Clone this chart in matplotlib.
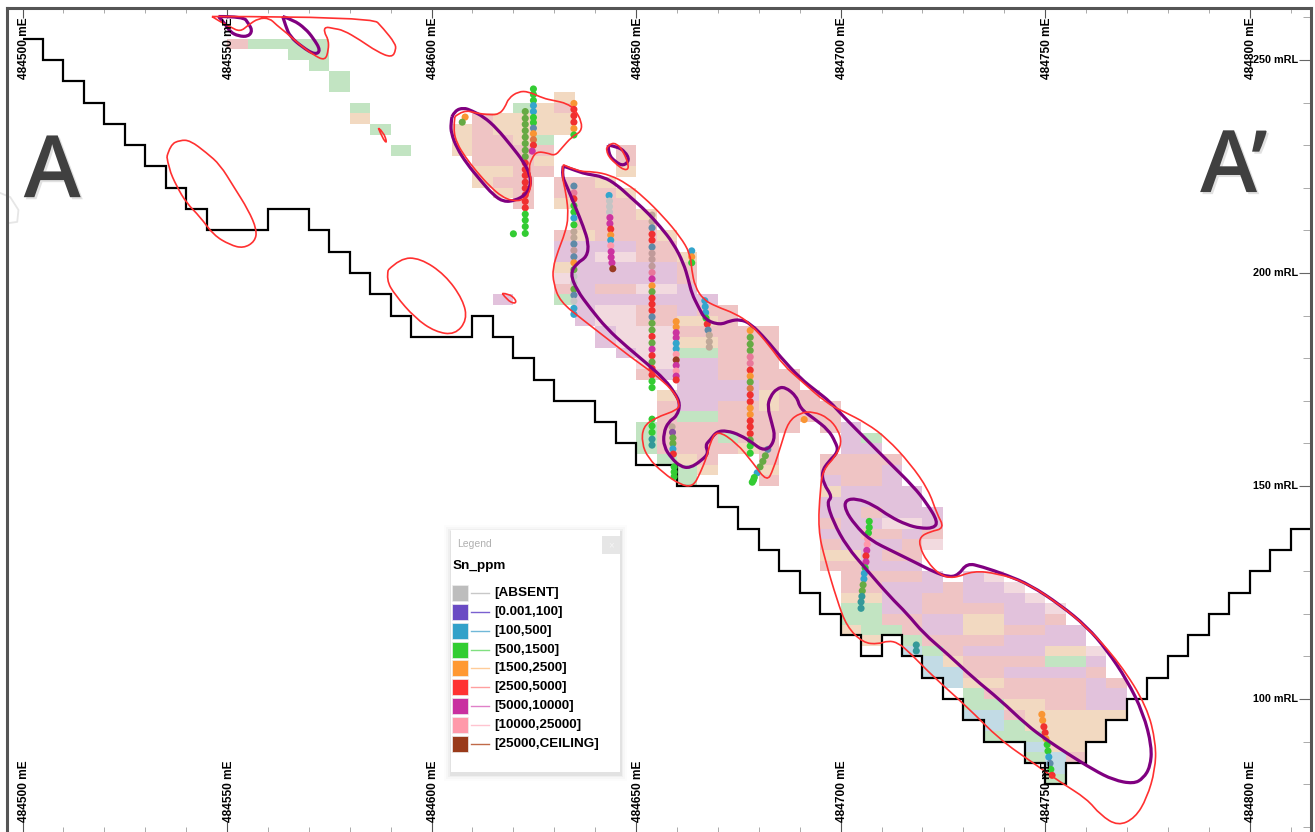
import numpy as np
import matplotlib
matplotlib.use('Agg')
import matplotlib.pyplot as plt
import matplotlib.patheffects as pe
from matplotlib.patches import Rectangle, PathPatch
from matplotlib.path import Path

plt.rcParams['font.family'] = ['Liberation Sans', 'DejaVu Sans']

# all eastings are metres east of 484500 mE
origin_e = 484500
major_e = [0, 50, 100, 150, 200, 250, 300]
minor_e = list(range(0, 320, 10))
major_rl = [100, 150, 200, 250]
minor_rl = list(range(70, 270, 10))

# topography, one level per step
topo_e = [0, 5, 10, 15, 20, 25, 30, 35, 40, 45, 60, 70, 75, 80, 85, 90, 95, 110, 115, 120, 125, 130, 140, 145,
          150, 160, 170, 175, 180, 185, 190, 195, 200, 205, 210, 215, 220, 225, 230, 235, 245, 250, 255, 260,
          265, 270, 275, 280, 285, 290, 295, 300, 305, 310, 315]
topo_rl = [255, 250, 245, 240, 235, 230, 225, 220, 215, 210, 215, 210, 205, 200, 195, 190, 185, 190, 185, 180,
           175, 170, 165, 160, 155, 150, 145, 140, 135, 130, 125, 120, 115, 110, 115, 110, 105, 100, 95, 90,
           85, 80, 85, 90, 95, 100, 105, 110, 115, 120, 125, 130, 135, 140]

# block model rows: (bottom RL, east from, east to)
blocks_100_500 = [(110, 215, 220), (107.5, 220, 225), (105, 220, 230), (102.5, 225, 230), (95, 230, 240),
                  (92.5, 235, 240), (87.5, 245, 250), (85, 250, 255), (82.5, 250, 255)]
blocks_500_1500 = [(252.5, 55, 75), (250, 65, 75), (247.5, 70, 75), (245, 75, 80), (242.5, 75, 80), (237.5, 80, 85),
                   (232.5, 85, 90), (227.5, 90, 95), (237.5, 120, 125), (230, 125, 130), (192.5, 130, 135),
                   (180, 160, 170), (165, 160, 170), (162.5, 150, 155), (160, 150, 155), (160, 170, 175),
                   (157.5, 150, 155), (155, 155, 160), (152.5, 160, 165), (150, 160, 165),
                   (160, 205, 210), (120, 200, 210), (117.5, 200, 210), (115, 205, 215), (112.5, 215, 220),
                   (110, 220, 225), (107.5, 250, 260), (100, 230, 235), (97.5, 230, 240), (92.5, 240, 245),
                   (90, 235, 250), (85, 245, 250), (80, 250, 255)]
blocks_1500_2500 = [(235, 80, 85), (240, 130, 135), (237.5, 125, 130), (235, 115, 135), (232.5, 105, 110),
                    (232.5, 115, 135), (230, 105, 110), (230, 120, 125), (227.5, 105, 110), (225, 125, 130),
                    (222.5, 110, 120), (222.5, 145, 150), (220, 110, 115), (220, 140, 145), (217.5, 115, 120),
                    (217.5, 145, 150), (215, 130, 135), (212.5, 150, 155), (207.5, 135, 140), (207.5, 155, 160),
                    (202.5, 160, 165), (200, 130, 135), (187.5, 160, 170), (182.5, 160, 170), (170, 155, 160),
                    (170, 180, 185), (167.5, 180, 185), (157.5, 175, 180), (155, 160, 165), (152.5, 165, 170),
                    (152.5, 180, 185), (147.5, 195, 200), (132.5, 195, 205), (122.5, 200, 210), (117.5, 230, 240),
                    (115, 200, 205), (115, 230, 240), (112.5, 205, 210), (110, 250, 260), (107.5, 225, 230),
                    (102.5, 230, 240), (97.5, 240, 250), (95, 245, 270), (92.5, 245, 265), (90, 250, 265),
                    (87.5, 250, 260)]
blocks_2500_5000 = [(252.5, 50, 55), (237.5, 130, 135), (235, 110, 115), (232.5, 110, 115), (230, 110, 120),
                    (227.5, 110, 130), (225, 110, 125), (225, 145, 150), (227.5, 145, 150), (222.5, 120, 130),
                    (220, 115, 125), (220, 130, 140), (217.5, 120, 125), (217.5, 130, 145), (215, 120, 125),
                    (215, 135, 150), (212.5, 135, 150), (210, 135, 155), (207.5, 130, 135), (207.5, 140, 155),
                    (205, 150, 160), (202.5, 150, 160), (200, 160, 165), (197.5, 160, 165), (195, 130, 135),
                    (195, 140, 150), (190, 150, 160), (190, 165, 175), (187.5, 150, 160), (187.5, 170, 175),
                    (185, 160, 185), (182.5, 170, 185), (180, 170, 185), (177.5, 170, 185), (175, 150, 155),
                    (175, 170, 190), (172.5, 180, 190), (170, 185, 195), (167.5, 155, 160), (167.5, 170, 180),
                    (167.5, 185, 200), (165, 155, 160), (165, 170, 200), (162.5, 155, 190), (162.5, 195, 200),
                    (160, 155, 170), (160, 175, 185), (157.5, 155, 175), (157.5, 180, 185), (155, 165, 170),
                    (155, 180, 185), (150, 180, 185), (155, 195, 215), (152.5, 195, 210), (150, 200, 210),
                    (142.5, 205, 210), (140, 195, 200), (137.5, 205, 215), (137.5, 220, 225), (135, 195, 200),
                    (135, 215, 220), (132.5, 210, 220), (130, 195, 205), (127.5, 200, 220), (125, 200, 210),
                    (125, 225, 230), (122.5, 220, 230), (120, 220, 240), (117.5, 210, 220), (117.5, 250, 255),
                    (115, 215, 220), (115, 240, 250), (112.5, 220, 240), (110, 225, 230), (107.5, 230, 250),
                    (105, 230, 240), (105, 260, 265), (102.5, 240, 260), (102.5, 265, 270), (100, 235, 260),
                    (97.5, 250, 260), (95, 240, 245), (85, 255, 260)]
blocks_5000_10000 = [(205, 130, 150), (202.5, 130, 140), (200, 135, 160), (197.5, 135, 160), (195, 135, 140),
                     (195, 160, 165), (192.5, 115, 120), (192.5, 135, 170), (190, 135, 140), (190, 160, 165),
                     (187.5, 135, 140), (185, 140, 145), (182.5, 140, 145), (180, 145, 150), (177.5, 160, 170),
                     (175, 155, 170), (172.5, 160, 180), (170, 160, 180), (167.5, 160, 170),
                     (162.5, 200, 205), (160, 200, 205), (157.5, 200, 210), (152.5, 210, 215), (150, 195, 200),
                     (150, 210, 215), (147.5, 200, 220), (145, 195, 220), (142.5, 195, 205), (142.5, 210, 225),
                     (140, 200, 210), (140, 220, 225), (137.5, 195, 205), (137.5, 215, 220), (135, 200, 215),
                     (132.5, 205, 210), (130, 205, 220), (127.5, 220, 225), (127.5, 230, 235), (125, 210, 225),
                     (125, 230, 240), (122.5, 210, 220), (122.5, 230, 245), (120, 210, 220), (120, 240, 250),
                     (117.5, 220, 230), (117.5, 240, 250), (115, 220, 230), (115, 250, 260), (112.5, 240, 260),
                     (110, 230, 250), (107.5, 260, 265), (105, 240, 260), (102.5, 260, 265), (100, 260, 270),
                     (97.5, 260, 270)]
blocks_10000_25000 = [(202.5, 140, 150), (197.5, 130, 135), (195, 150, 160), (190, 140, 150), (187.5, 140, 150),
                      (185, 145, 160), (182.5, 145, 160), (180, 150, 160), (177.5, 150, 160), (140, 210, 220),
                      (135, 220, 225), (127.5, 235, 240), (125, 240, 245), (122.5, 245, 250), (120, 250, 255),
                      (110, 260, 265)]

# red wireframe outlines
red_top_e = [46.3, 85.4, 88.2, 91.1, 91.3, 90.3, 86.6, 82.5, 78.4, 76, 74, 73.7, 74.8, 74.8, 74, 71.1, 67.9, 64.6,
             62.1, 60.4, 57.7, 55.2, 53.2, 50.7, 48.3, 46.3]
red_top_rl = [260.2, 260.2, 257.4, 253.9, 252.4, 250.5, 252, 254.7, 257, 257.4, 257.8, 256.6, 254.7, 252.4, 249.8,
              251.2, 253.5, 256.3, 258.2, 259.8, 259.8, 258.2, 256.6, 257.8, 259, 260.2]
red_oval_e = [35.3, 36.1, 38.5, 41, 45, 48.3, 51.6, 55.2, 57.3, 56.8, 54, 50.7, 46.7, 43.4, 40.1, 37.7, 35.7, 35.3]
red_oval_rl = [227.3, 230.1, 231.2, 231.1, 228.2, 225.4, 220.3, 214.8, 210.1, 207.4, 205.8, 206.6, 208.9, 213.2,
               216.4, 220.3, 224.6, 227.3]
red_sliver_e = [87, 88.2, 89.2, 88, 87]
red_sliver_rl = [234, 233.2, 230.3, 231.6, 234]
red_blob_e = [89.4, 92.3, 97.2, 103.3, 107.7, 108.7, 105.7, 100.9, 96, 91.1, 88.9, 89.4]
red_blob_rl = [200.7, 203.5, 203.5, 199.6, 193.7, 189, 185.5, 186.2, 189.4, 194.8, 198.4, 200.7]
red_small_e = [117.3, 118.8, 120.7, 120.4, 118.4, 117.3]
red_small_rl = [195.2, 195.2, 193.7, 192.7, 193.7, 195.2]
red_upper_e = [105.7, 107.8, 111, 114.3, 116.6, 118, 118.8, 121.2, 123.7, 127.3, 129.8, 133.1, 135.1, 136.7, 136.6,
               134.3, 131.8, 130.2, 128.2, 125.7, 124.5, 123.7, 124.5, 123.7, 122.1, 119.6, 117.2, 114.3, 111,
               108.2, 106.2, 105.3, 105.7]
red_upper_rl = [236.7, 238.3, 237.5, 237.1, 237.3, 239, 241, 242.6, 242.6, 241, 240.5, 239.8, 238.3, 235.5, 233.2,
                232, 229.3, 227.5, 228.2, 228.5, 226.9, 224.6, 221.4, 218.3, 217, 217, 217.9, 220.3, 223.8, 227.3,
                230.4, 233.6, 236.7]
red_ring_e = [142.8, 143.6, 145.3, 146.9, 148.4, 147.3, 144.9, 142.8, 142.8]
red_ring_rl = [229.3, 230.4, 230.4, 228.5, 224.8, 224, 225.7, 227.9, 229.3]
red_main_e = [132.2, 135.9, 139.6, 143.6, 147.7, 151.8, 156.7, 160.8, 163.2, 163.6, 164.4, 166.5, 169.7, 174.2, 177.9,
              182.8, 186, 190.1, 196.6, 200.7, 206.4, 211.3, 217, 221.5, 223.5, 225.4, 221.9, 219.4, 219.3, 221.1,
              224.3, 227.6, 232.5, 238.2, 244.7, 252, 260.2, 268.3, 274.9, 277.1, 276.9, 274.9, 272, 267.8, 263.5,
              260.2, 253.7, 247.1, 239, 230.9, 222.6, 217, 214.1, 211.6, 209.2, 205.5, 201.5, 199.1, 196.2, 194.5,
              195, 195.7, 198.7, 200.3, 199.4, 197, 193.3, 190.1, 187.2, 185.6, 183.5, 182, 178.6, 174.6, 169.7,
              168.1, 167.3, 165.7, 163.9, 160.8, 156.6, 152.9, 151.4, 151.7, 154.6, 160.3, 160.6, 159, 154.2, 148.5,
              142.8, 137, 131.4, 129.8, 129.6, 131, 132.6, 133.5, 132.9, 131.8, 132.2]
red_main_rl = [225.4, 223.8, 223.8, 223, 221, 217.9, 213.2, 208.5, 204.6, 200.7, 196.8, 193.7, 192.1, 190.5, 188.2,
               182.7, 178.4, 174.9, 169.4, 167.5, 164.7, 161.2, 155.3, 149.1, 143.6, 140.1, 139.3, 138.1, 135.8,
               132.3, 129.1, 128.3, 130.1, 129.5, 127.6, 123.3, 117, 108.4, 98.2, 89.6, 83.4, 76.8, 72.1, 70.2, 72.8,
               76.6, 80.5, 85, 90.4, 98.2, 105.3, 110.8, 113.2, 113.7, 112.9, 113.2, 117, 123.3, 132.7, 139.7, 149.1,
               153.8, 156.9, 160.1, 163.2, 166, 167.5, 167.2, 165.1, 160.1, 153.8, 151, 155.4, 160.1, 163.2, 160.1,
               156.9, 153.1, 149.8, 150.3, 153.1, 156.6, 160.1, 163.9, 166, 167.9, 169.5, 172.5, 176.5, 180.4, 184.7,
               189, 193.3, 197.6, 201.1, 205.4, 209.3, 213.2, 218.7, 223, 225.4]

# purple wireframe outlines
purple_a_e = [47.9, 54, 55.2, 56.2, 55.2, 52.8, 50.7, 49.5, 47.9]
purple_a_rl = [260.2, 260.2, 258.6, 256.9, 255.5, 255.6, 256.6, 258.6, 260.2]
purple_b_e = [63.6, 66.2, 69.1, 71.1, 72.9, 71.5, 68.3, 65.4, 64.4, 63.6]
purple_b_rl = [260.2, 259.4, 257.4, 255.1, 252.2, 251.2, 253.1, 255.5, 257.8, 260.2]
purple_c_e = [105, 105.7, 107.8, 109.8, 112.7, 115.9, 119.6, 122.5, 124.1, 124.2, 122.9, 120.4, 117.6, 115.1, 111.9,
              108.6, 106.2, 104.8, 104.7, 105]
purple_c_rl = [236.7, 238.1, 238.8, 238.1, 236.7, 234, 229.7, 226.1, 223, 220.3, 218.3, 217, 216.7, 218.3, 221.8,
               225.7, 229.3, 232.8, 235.1, 236.7]
purple_ring_e = [143.2, 145.3, 147.3, 148.4, 146.9, 144.9, 143.2, 143.2]
purple_ring_rl = [230, 229.7, 228.5, 226.5, 225.1, 226.1, 227.9, 230]
purple_main_e = [132.2, 135.9, 138, 142, 145.3, 148.5, 152.6, 155.9, 159.1, 161.6, 162.8, 163.6, 165.2, 166.9, 170.5,
                 173, 175.4, 177.9, 181.9, 185.2, 190.1, 194.2, 197.4, 200.7, 206.4, 212.1, 217.8, 221.1, 223.8, 222.7,
                 219.4, 216.2, 212.1, 208, 203.9, 201.1, 201.1, 203.5, 207.2, 212.9, 218.6, 222.7, 226.4, 228.8, 230.9,
                 234.5, 240.6, 246.3, 253.7, 260.2, 265.1, 270, 274, 276.1, 275.7, 274, 271.6, 266.7, 261.8, 255.3,
                 250.4, 245.5, 239, 232.5, 226, 220.3, 216.2, 212.1, 206.4, 201.5, 198.2, 196.6, 198, 195.8, 195.4,
                 197, 199.5, 198.7, 197, 193.4, 190.1, 189.3, 186.4, 184.4, 182.8, 182.1, 183.2, 184, 182.8, 180.7,
                 178.7, 175.4, 172.2, 169.7, 168.1, 166.9, 167.7, 166.1, 163.2, 160.8, 158.7, 156.8, 156.7, 157.9,
                 160, 160.8, 159.5, 157.1, 152.6, 147.7, 142.8, 138.8, 135.5, 133.9, 135.5, 138, 138.4, 137.1, 135.1,
                 133.1, 131.8, 132.2]
purple_main_rl = [225.1, 223.8, 223.2, 222.6, 220.7, 217.9, 214.4, 210.9, 207, 202.3, 198.4, 195.2, 192.1, 189, 187.8,
                  188.8, 189.1, 188.2, 184.3, 180.4, 175.3, 172.2, 169.8, 166.3, 160.8, 155.3, 149.9, 145.9, 141.6,
                  140.1, 140.1, 140.9, 142.8, 145.6, 147.1, 146.7, 144.4, 140.9, 137.3, 134.6, 131.9, 129.9, 128.6,
                  129.1, 131.9, 131.1, 129.1, 126.8, 122.1, 117, 111.5, 104.5, 96.7, 88.8, 84.1, 81.4, 80.1, 81, 83.4,
                  87.3, 90.4, 93.9, 99.8, 104.9, 110.7, 115.4, 120.1, 124, 130.3, 135.8, 141.6, 146.3, 147.4, 150.6,
                  153.4, 155.7, 158.1, 160.4, 163.2, 165.9, 168.2, 171, 173.3, 172.9, 171, 168.6, 164.7, 161.6, 158.9,
                  158.5, 160, 162, 163, 162.8, 160.8, 159.6, 157.7, 156.1, 154.2, 154.6, 156.5, 159.2, 162.4, 165.1,
                  166.4, 169.3, 171.8, 174.9, 178.8, 182.7, 187, 191.7, 196, 199.9, 202.3, 203.8, 207, 210.9, 215.6,
                  220.3, 223, 225.1]

# drill hole samples
hole_a_e = [124.9] * 11 + [124.6]
hole_a_rl = [243.2, 241.9, 240.5, 239.3, 237.9, 236.5, 235.3, 234, 232.7, 231.3, 230, 228.6]
hole_a_grade = ['g', 'g', 'g', 'b', 'b', 'g', 'g', 'sl', 'or', 'te', 'r', 'm']
hole_b_e = [122.9] * 20
hole_b_rl = [237.9, 236.3, 234.9, 233.4, 231.9, 230.4, 228.8, 227.3, 225.8, 224.3, 222.9, 221.3, 219.9, 218.3, 216.8,
             215.3, 213.8, 212.4, 210.9, 209.3]
hole_b_grade = ['ol'] * 8 + ['r'] * 8 + ['g'] * 4
hole_c_e = [134.8] * 6
hole_c_rl = [239.8, 238.4, 236.9, 235.4, 233.9, 232.4]
hole_c_grade = ['or', 'r', 'r', 'r', 'or', 'g']
hole_d_e = [134.8] * 21
hole_d_rl = [220.4, 218.8, 217.4, 215.8, 214.3, 212.9, 211.3, 209.7, 208.3, 206.8, 205.3, 203.8, 202.4, 200.8, 199.2,
             197.7, 196.2, 194.8, 193.4, 191.7, 190.3]
hole_d_grade = ['sl', 'pk', 'r', 'g', 'g', 'b', 'g', 'tn', 'tn', 'sl', 'rs', 'sl', 'or', 'ol', 'gy', 'gy', 'ol', 'sl',
                'gy', 'b', 'b']
hole_e_e = [143.4, 143.5, 143.5, 143.5, 143.6, 143.6, 143.8, 143.8, 143.8, 143.8, 143.9, 143.9, 144.1, 144.3]
hole_e_rl = [218.2, 216.9, 215.6, 214.3, 213, 211.6, 210.3, 208.9, 207.7, 206.4, 205, 203.7, 202.4, 201]
hole_e_grade = ['b', 'gy', 'gy', 'gy', 'm', 'm', 'r', 'or', 'b', 'lp', 'm', 'm', 'm', 'dr']
hole_f_e = [153.9] * 28
hole_f_rl = [213.6, 212.1, 210.6, 209.1, 207.7, 206.1, 204.6, 203.2, 201.6, 200.1, 198.6, 197, 195.6, 194.1, 192.7,
             191.2, 189.7, 188.2, 186.6, 185.1, 183.6, 182.1, 180.6, 179.1, 177.6, 176.1, 174.6, 173.1]
hole_f_grade = ['tn', 'tn', 'sl', 'r', 'r', 'sl', 'rs', 'rs', 'rs', 'pk', 'm', 'or', 'ol', 'r', 'r', 'r', 'sl', 'ol',
                'ol', 'r', 'ol', 'm', 'r', 'ol', 'r', 'r', 'g', 'g']
hole_g_e = [153.9] * 5
hole_g_rl = [165.7, 164.1, 162.6, 161, 159.6]
hole_g_grade = ['g', 'g', 'g', 'tl', 'tl']
hole_h_e = [159.8] * 12
hole_h_rl = [188.6, 187.3, 186, 184.8, 183.5, 182.2, 180.9, 179.6, 178.3, 177, 175.8, 174.9]
hole_h_grade = ['or', 'or', 'm', 'm', 'b', 'b', 'lp', 'dr', 'm', 'lp', 'm', 'r']
hole_i_e = [158.8, 158.9, 159, 159, 159, 159.1, 159.3, 159.3, 159.3]
hole_i_rl = [163.9, 162.6, 161.3, 160, 158.7, 157.5, 154.5, 153.3, 152.2]
hole_i_grade = ['tn', 'pu', 'ol', 'ol', 'b', 'r', 'g', 'g', 'g']
hole_j_e = [166.8, 166.9, 167, 167.1, 167.4, 167.6, 167.9, 167.9, 167.9]
hole_j_rl = [193.5, 192.1, 190.7, 189.4, 188, 186.6, 185.4, 183.9, 182.6]
hole_j_grade = ['b', 'b', 'b', 'g', 'r', 'sl', 'tn', 'tn', 'tn']
hole_k_e = [163.6] * 3
hole_k_rl = [205.2, 203.8, 202.4]
hole_k_grade = ['b', 'or', 'g']
hole_l_e = [177.9] * 20
hole_l_rl = [186.5, 184.9, 183.3, 181.8, 180.3, 178.8, 177.2, 175.8, 174.4, 172.9, 171.4, 169.8, 168.3, 166.8, 165.3,
             163.9, 162.3, 160.8, 159.4, 157.7]
hole_l_grade = ['or', 'ol', 'ol', 'ol', 'pk', 'pk', 'r', 'or', 'ol', 'te', 'r', 'r', 'or', 'or', 'r', 'r', 'r', 'ol',
                'g', 'g']
hole_m_e = [182.2, 181.6, 181, 180.3, 179.6, 178.9, 178.7, 178.4]
hole_m_rl = [158.6, 157.1, 155.8, 154.5, 153.1, 152, 151.4, 150.9]
hole_m_grade = ['sl', 'ol', 'ol', 'ol', 'b', 'g', 'g', 'g']
hole_n_e = [207, 207, 206.8, 206.6, 206.5, 206.4, 206.2, 206.2, 206, 205.8, 205.7, 205.5, 205.3, 205.2, 205, 205]
hole_n_rl = [141.7, 140.3, 139, 137.6, 136.3, 134.9, 133.6, 132.2, 130.8, 129.5, 128.2, 126.8, 125.4, 124.1, 122.8,
             121.3]
hole_n_grade = ['g', 'g', 'g', 'lp', 'lp', 'm', 'r', 'm', 'g', 'b', 'b', 'ol', 'ol', 'tl', 'tl', 'tl']
hole_o_e = [218.5, 218.5]
hole_o_rl = [112.7, 111.3]
hole_o_grade = ['tl', 'tl']
hole_p_e = [249.2, 249.4, 249.7, 250, 250.2, 250.5, 250.7, 250.9, 251.2, 251.4, 251.7]
hole_p_rl = [96.4, 95, 93.5, 92.1, 90.7, 89.3, 87.8, 86.4, 84.9, 83.5, 82.1]
hole_p_grade = ['or', 'or', 'r', 'r', 'or', 'g', 'g', 'b', 'sl', 'g', 'r']
single_e = [120, 108.2, 107.5, 191.1]
single_rl = [209.2, 236.6, 235.4, 165.6]
single_grade = ['g', 'or', 'ol', 'or']

legend_labels = ['[ABSENT]', '[0.001,100]', '[100,500]', '[500,1500]', '[1500,2500]', '[2500,5000]', '[5000,10000]',
                 '[10000,25000]', '[25000,CEILING]']
legend_fill = ['#bdbdbd', '#6a4bc4', '#33a1c9', '#32cd32', '#ff9933', '#ff3333', '#c930a0', '#ff99aa', '#993a1a']
legend_line = ['#c8c8c8', '#7a60d0', '#70b8d8', '#80e080', '#ffcc99', '#ff9f9f', '#e080c8', '#ffc4d0', '#c06a48']

dot_colors = {'g': '#33cc33', 'ol': '#66aa44', 'b': '#33a5cc', 'sl': '#5f8aa8', 'gy': '#c4c4c4', 'tn': '#bfa898',
              'rs': '#c09a9a', 'r': '#f03030', 'or': '#f99533', 'm': '#cc33a0', 'lp': '#ff99aa', 'dr': '#993a22',
              'tl': '#339999', 'te': '#dd7744', 'pk': '#e8789a', 'pu': '#8a50a0'}


def outline(e, rl, color, lw, z):
    # rounded outline: the read points act as quadratic control points
    pts = list(zip(e, rl))
    verts = [pts[0]]
    codes = [Path.MOVETO]
    for i in range(1, len(pts) - 1):
        end = pts[i + 1] if i == len(pts) - 2 else ((pts[i][0] + pts[i + 1][0]) / 2, (pts[i][1] + pts[i + 1][1]) / 2)
        verts += [pts[i], end]
        codes += [Path.CURVE3, Path.CURVE3]
    ax.add_patch(PathPatch(Path(verts, codes), fill=False, ec=color, lw=lw, joinstyle='round', zorder=z))


fig = plt.figure(figsize=(13.15, 8.32), dpi=100)
ax = fig.add_axes([7 / 1315, 0, 1304 / 1315, 824 / 832])
ax.set_xlim(-3.8, 315)
ax.set_ylim(68.8, 262.2)

block_sets = [(blocks_100_500, '#c2dbe5'), (blocks_500_1500, '#c2e4c2'), (blocks_1500_2500, '#f2d9c1'),
              (blocks_2500_5000, '#efc4c4'), (blocks_5000_10000, '#e2c2dc'), (blocks_10000_25000, '#f2dadf')]
for rows, color in block_sets:
    for rl, e0, e1 in rows:
        ax.add_patch(Rectangle((e0, rl), e1 - e0, 2.5, fc=color, ec='none', zorder=1))

ax.stairs(topo_rl, topo_e, baseline=None, color='black', lw=1.6, zorder=2)

holes = [(hole_a_e, hole_a_rl, hole_a_grade), (hole_b_e, hole_b_rl, hole_b_grade), (hole_c_e, hole_c_rl, hole_c_grade),
         (hole_d_e, hole_d_rl, hole_d_grade), (hole_e_e, hole_e_rl, hole_e_grade), (hole_f_e, hole_f_rl, hole_f_grade),
         (hole_g_e, hole_g_rl, hole_g_grade), (hole_h_e, hole_h_rl, hole_h_grade), (hole_i_e, hole_i_rl, hole_i_grade),
         (hole_j_e, hole_j_rl, hole_j_grade), (hole_k_e, hole_k_rl, hole_k_grade), (hole_l_e, hole_l_rl, hole_l_grade),
         (hole_m_e, hole_m_rl, hole_m_grade), (hole_n_e, hole_n_rl, hole_n_grade), (hole_o_e, hole_o_rl, hole_o_grade),
         (hole_p_e, hole_p_rl, hole_p_grade), (single_e, single_rl, single_grade)]
for e, rl, grade in holes:
    ax.scatter(e, rl, s=26, c=[dot_colors[g] for g in grade], linewidths=0, zorder=3)

for e, rl in [(purple_a_e, purple_a_rl), (purple_b_e, purple_b_rl), (purple_c_e, purple_c_rl),
              (purple_ring_e, purple_ring_rl), (purple_main_e, purple_main_rl)]:
    outline(e, rl, '#800080', 2.3, 4)
for e, rl in [(red_top_e, red_top_rl), (red_oval_e, red_oval_rl), (red_sliver_e, red_sliver_rl),
              (red_blob_e, red_blob_rl), (red_small_e, red_small_rl), (red_upper_e, red_upper_rl),
              (red_ring_e, red_ring_rl), (red_main_e, red_main_rl)]:
    outline(e, rl, '#ff3030', 1.2, 5)

# faint leftover arc at the left edge
ax.plot([-5.5, -3, -1, -1.3, -3.5], [218.8, 217.8, 214.8, 212, 211.7], color='#e6e6e6', lw=1.3, clip_on=False, zorder=1)

for side in ['top', 'left', 'right']:
    ax.spines[side].set_color('#555555')
    ax.spines[side].set_linewidth(2.2)
ax.spines['bottom'].set_visible(False)

ax.set_xticks(major_e)
ax.set_xticks(minor_e, minor=True)
ax.set_yticks(major_rl)
ax.set_yticks(minor_rl, minor=True)
ax.tick_params(axis='x', which='major', top=True, bottom=True, direction='in', length=7.2, width=0.8, color='#555555',
               labelbottom=False, labeltop=False)
ax.tick_params(axis='x', which='minor', top=True, bottom=True, direction='in', length=3.8, width=0.7, color='#aaaaaa')
ax.tick_params(axis='y', which='major', left=False, right=True, direction='in', length=9, width=0.8, color='#666666',
               labelleft=False, labelright=False)
ax.tick_params(axis='y', which='minor', left=False, right=True, direction='in', length=6, width=0.7, color='#aaaaaa')

for e in major_e:
    ax.text(e + 0.4, 259.9, f'{origin_e + e} mE', rotation=90, ha='center', va='top', fontsize=8.6, fontweight='bold',
            color='black', zorder=6)
    ax.text(e + 0.4, 71.2, f'{origin_e + e} mE', rotation=90, ha='center', va='bottom', fontsize=8.6, fontweight='bold',
            color='black', zorder=6)
for rl in major_rl:
    ax.text(311.9, rl, f'{rl} mRL', ha='right', va='center', fontsize=7.8, fontweight='bold', color='black', zorder=6)

shadow = [pe.SimplePatchShadow(offset=(1.5, -1.5), shadow_rgbFace='#aaaaaa', alpha=0.35), pe.Normal()]
ax.text(0.3, 217.8, 'A', fontsize=62, family='Open Sans', fontweight='semibold', color='#404040', ha='left',
        va='baseline', path_effects=shadow, zorder=6)
ax.text(287.9, 219, 'A\u2019', fontsize=62, family='Open Sans', fontweight='semibold', color='#404040', ha='left',
        va='baseline', path_effects=shadow, zorder=6)

# legend panel, its axes run in figure pixels
lax = fig.add_axes([435 / 1315, 1 - 788 / 832, 201 / 1315, 274 / 832], zorder=10)
lax.set_xlim(435, 636)
lax.set_ylim(788, 514)
lax.axis('off')
for pad, alpha in [(7, 0.012), (5, 0.02), (3, 0.03), (1.5, 0.05)]:
    lax.add_patch(Rectangle((451 - pad, 530 - pad + 2), 169 + 2 * pad, 242 + 2 * pad, fc='black', ec='none', alpha=alpha))
lax.add_patch(Rectangle((451, 530), 169, 242, fc='white', ec='none'))
lax.text(457, 544, 'Legend', fontsize=7.5, color='#b0b0b0', va='center')
lax.add_patch(Rectangle((602, 536), 18, 18, fc='#e6e6e6', ec='none'))
lax.text(611, 545, '\u00d7', fontsize=7, color='#f5f5f5', ha='center', va='center')
lax.text(453, 566, 'Sn_ppm', fontsize=9.7, fontweight='bold', color='black', va='center')
for i, label in enumerate(legend_labels):
    yc = 593 + i * 18.85
    lax.add_patch(Rectangle((452, yc - 8), 15.5, 16, fc=legend_fill[i], ec='#eeeeee', lw=0.5))
    lax.plot([471, 489], [yc, yc], color=legend_line[i], lw=1.0)
    lax.text(494, yc, label, fontsize=9.7, fontweight='bold', color='black', va='center')

fig.savefig('out.png', dpi=100)
